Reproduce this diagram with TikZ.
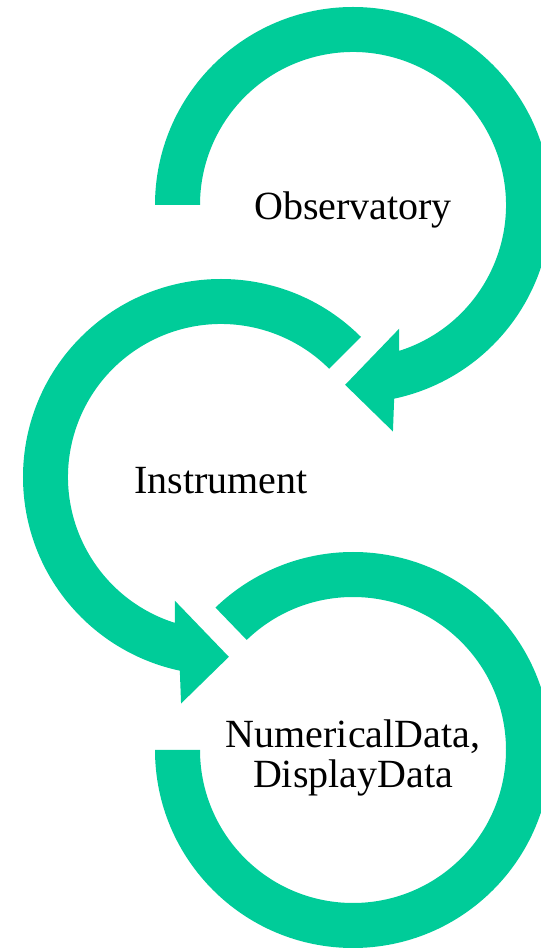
\documentclass[tikz,border=0pt]{standalone}
\usepackage{fontspec}
\setmainfont{Liberation Serif}
\usepackage{tikz}
\usetikzlibrary{calc}
\definecolor{loopgreen}{RGB}{0,204,153}

\begin{document}
\begin{tikzpicture}[
  x=0.5pt,
  y=0.5pt,
  band/.style={fill=loopgreen, draw=none},
  caption/.style={
    font=\fontsize{20}{20}\selectfont,
    align=center,
    inner sep=0pt,
  },
]
\useasboundingbox (0,0) rectangle (541,949);
\clip (0,0) rectangle (541,949);

\coordinate (obs) at (353,744);
\coordinate (ins) at (221,472);
\coordinate (dat) at (353,199);

% first loop: tail on the left, head at the bottom
\fill[band] ($(obs)+(180:198)$) arc[start angle=180, end angle=-78, radius=99pt]
  -- ($(obs)+(-80:230)$) -- ($(obs)+(-92.5:180)$) -- ($(obs)+(-69.5:132)$)
  -- ($(obs)+(-72.5:153)$) arc[start angle=-72.5, end angle=180, radius=76.5pt] -- cycle;

% second loop: tail at upper right, head at the bottom
\fill[band] ($(ins)+(45:198)$) arc[start angle=45, end angle=258, radius=99pt]
  -- ($(ins)+(260:230)$) -- ($(ins)+(272.5:180)$) -- ($(ins)+(249.5:132)$)
  -- ($(ins)+(252.5:153)$) arc[start angle=252.5, end angle=45, radius=76.5pt] -- cycle;

% last loop, no head
\fill[band] ($(dat)+(180:198)$) arc[start angle=180, end angle=494, radius=99pt]
  -- ($(dat)+(134:153)$) arc[start angle=494, end angle=180, radius=76.5pt] -- cycle;

\node[caption, anchor=base] (observatory) at ($(obs)+(0,-15)$) {Observatory};
\node[caption, anchor=base] (instrument) at ($(ins)+(0,-17)$) {Instrument};
\node[caption] (data) at ($(dat)+(0,-8)$) {NumericalData,\\DisplayData};

\end{tikzpicture}
\end{document}
